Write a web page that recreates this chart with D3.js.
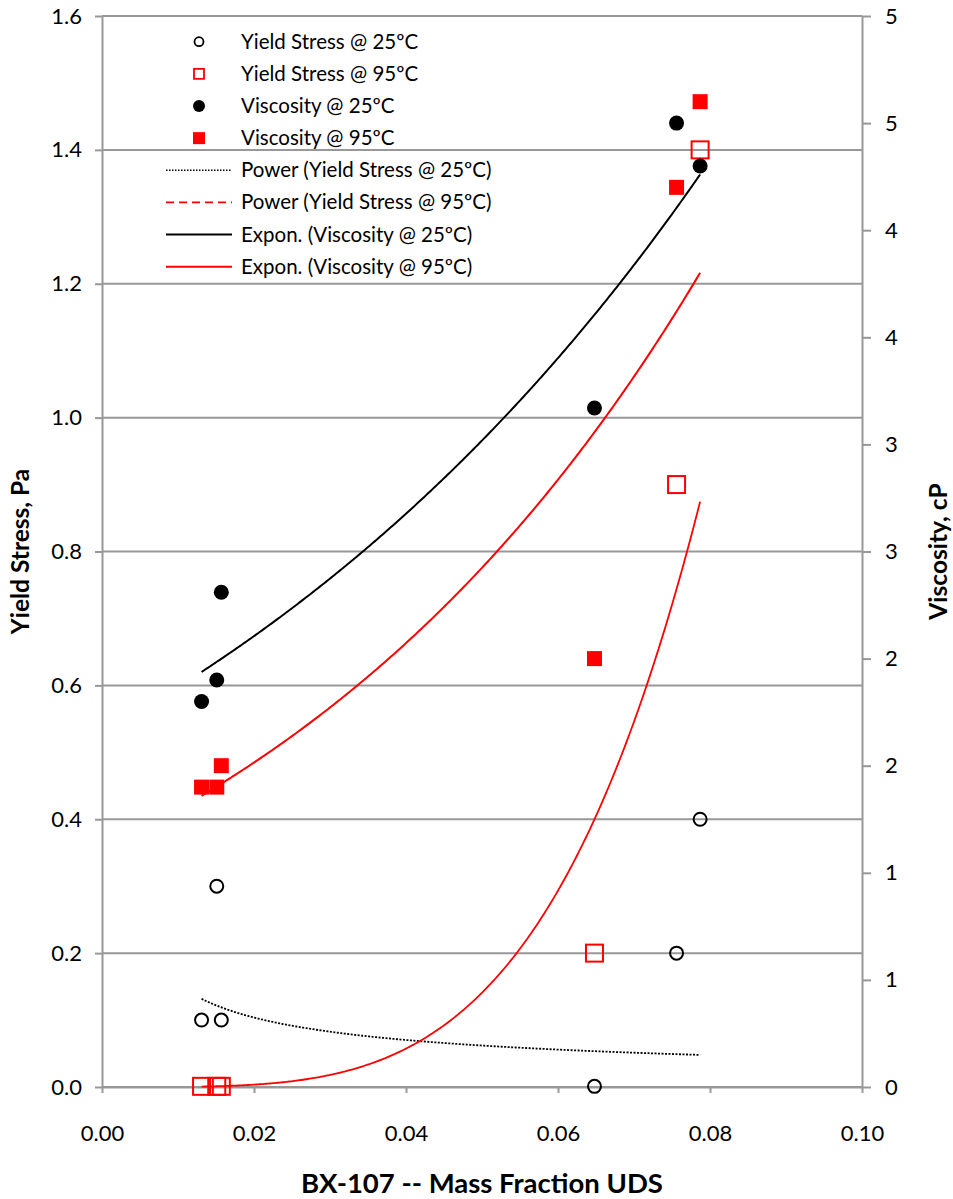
<!DOCTYPE html>
<html><head><meta charset="utf-8">
<script src="https://cdn.jsdelivr.net/npm/d3@7/dist/d3.min.js"></script>
<style>
body{margin:0;background:#fff}
svg{display:block}
text{font-family:Lato,"Open Sans",sans-serif;fill:#000}
</style>
</head><body>
<svg id="chart" width="953" height="1199"></svg>
<script>
// ---- data ----
const massFraction   = [0.0131, 0.0151, 0.0157, 0.0648, 0.0756, 0.0787];
const yieldStress25  = [0.1, 0.3, 0.1, 0.001, 0.2, 0.4];
const yieldStress95  = [0.001, 0.001, 0.001, 0.2, 0.9, 1.4];
const viscosity25    = [1.80, 1.90, 2.31, 3.17, 4.50, 4.30];
const viscosity95    = [1.40, 1.40, 1.50, 2.00, 4.20, 4.60];

const xTickValues      = [0, 0.02, 0.04, 0.06, 0.08, 0.10];
const xTickLabels      = ["0.00", "0.02", "0.04", "0.06", "0.08", "0.10"];
const yLeftTickValues  = [0, 0.2, 0.4, 0.6, 0.8, 1.0, 1.2, 1.4, 1.6];
const yLeftTickLabels  = ["0.0", "0.2", "0.4", "0.6", "0.8", "1.0", "1.2", "1.4", "1.6"];
const yRightTickValues = [0, 0.5, 1, 1.5, 2, 2.5, 3, 3.5, 4, 4.5, 5];
const yRightTickLabels = ["0", "1", "1", "2", "2", "3", "3", "4", "4", "5", "5"];

const legendLabels = [
  "Yield Stress @ 25ºC",
  "Yield Stress @ 95ºC",
  "Viscosity @ 25ºC",
  "Viscosity @ 95ºC",
  "Power (Yield Stress @  25ºC)",
  "Power (Yield Stress @ 95ºC)",
  "Expon. (Viscosity @ 25ºC)",
  "Expon. (Viscosity @ 95ºC)"
];
const xTitle = "BX-107 -- Mass Fraction UDS";
const yLeftTitle = "Yield Stress, Pa";
const yRightTitle = "Viscosity, cP";

// ---- layout ----
const L = 102, R = 862, T = 16, B = 1087;
const svg = d3.select("#chart");
const grid = "#989898";

const x = d3.scaleLinear().domain([0, 0.10]).range([L, R]);
const yL = d3.scaleLinear().domain([0, 1.6]).range([B, T]);
const yR = d3.scaleLinear().domain([0, 5]).range([B, T]);

// least-squares trendlines (Excel style)
function linFit(xs, ys){
  const n = xs.length, mx = d3.mean(xs), my = d3.mean(ys);
  let sxy = 0, sxx = 0;
  for (let i = 0; i < n; i++){ sxy += (xs[i]-mx)*(ys[i]-my); sxx += (xs[i]-mx)**2; }
  const b = sxy/sxx; return {b, c: my - b*mx};
}
function powerFit(xs, ys){
  const f = linFit(xs.map(Math.log), ys.map(Math.log));
  return t => Math.exp(f.c) * Math.pow(t, f.b);
}
function expFit(xs, ys){
  const f = linFit(xs, ys.map(Math.log));
  return t => Math.exp(f.c) * Math.exp(f.b * t);
}
const xmin = d3.min(massFraction), xmax = d3.max(massFraction);
const samples = d3.range(301).map(i => xmin + (xmax - xmin) * i / 300);

// gridlines
svg.append("g").selectAll("line").data(yLeftTickValues).join("line")
  .attr("x1", L).attr("x2", R).attr("y1", d => yL(d)).attr("y2", d => yL(d))
  .attr("stroke", grid).attr("stroke-width", 2);

// axes
function styleAxis(g){
  g.selectAll(".domain").attr("stroke", grid).attr("stroke-width", 2);
  g.selectAll(".tick line").attr("stroke", grid).attr("stroke-width", 2);
  g.selectAll(".tick text").style("font-family", "Lato, 'Open Sans', sans-serif").style("font-size", "22px").attr("fill", "#000");
}
svg.append("g").attr("transform", `translate(${L},0)`)
  .call(d3.axisLeft(yL).tickValues(yLeftTickValues).tickSize(7).tickSizeOuter(0).tickPadding(13)
    .tickFormat((d, i) => yLeftTickLabels[i]))
  .call(styleAxis);
svg.append("g").attr("transform", `translate(${R},0)`)
  .call(d3.axisRight(yR).tickValues(yRightTickValues).tickSize(9).tickSizeOuter(0).tickPadding(14)
    .tickFormat((d, i) => yRightTickLabels[i]))
  .call(styleAxis);
svg.append("g").attr("transform", `translate(0,${B})`)
  .call(d3.axisBottom(x).tickValues(xTickValues).tickSize(6).tickSizeOuter(0).tickPadding(32)
    .tickFormat((d, i) => xTickLabels[i]))
  .call(styleAxis);

// trendlines
const trends = [
  {f: powerFit(massFraction, yieldStress25), y: yL, color: "#000", dash: "2,1.5", w: 1.8},
  {f: powerFit(massFraction, yieldStress95), y: yL, color: "#ff0000", dash: null, w: 1.8},
  {f: expFit(massFraction, viscosity25), y: yR, color: "#000", dash: null, w: 2},
  {f: expFit(massFraction, viscosity95), y: yR, color: "#ff0000", dash: null, w: 2}
];
trends.forEach(t => {
  const line = d3.line().x(d => x(d)).y(d => t.y(t.f(d)));
  svg.append("path").attr("d", line(samples)).attr("fill", "none")
    .attr("stroke", t.color).attr("stroke-width", t.w)
    .attr("stroke-dasharray", t.dash);
});

// markers
const pts = (ys) => massFraction.map((m, i) => ({m, v: ys[i]}));
svg.append("g").selectAll("circle").data(pts(yieldStress25)).join("circle")
  .attr("cx", d => x(d.m)).attr("cy", d => yL(d.v)).attr("r", 6.5)
  .attr("fill", "none").attr("stroke", "#000").attr("stroke-width", 2);
svg.append("g").selectAll("rect").data(pts(yieldStress95)).join("rect")
  .attr("x", d => x(d.m) - 8.5).attr("y", d => yL(d.v) - 8.5).attr("width", 17).attr("height", 17)
  .attr("fill", "none").attr("stroke", "#ff0000").attr("stroke-width", 2);
svg.append("g").selectAll("circle").data(pts(viscosity25)).join("circle")
  .attr("cx", d => x(d.m)).attr("cy", d => yR(d.v)).attr("r", 7.5).attr("fill", "#000");
svg.append("g").selectAll("rect").data(pts(viscosity95)).join("rect")
  .attr("x", d => x(d.m) - 7.5).attr("y", d => yR(d.v) - 7.5).attr("width", 15).attr("height", 15)
  .attr("fill", "#ff0000");

// legend
const lg = svg.append("g");
const rowY = i => 41.7 + i * 32.15;
const mx = 199;
lg.append("circle").attr("cx", mx).attr("cy", rowY(0)).attr("r", 4.5).attr("fill", "none").attr("stroke", "#000").attr("stroke-width", 1.8);
lg.append("rect").attr("x", mx - 5).attr("y", rowY(1) - 5).attr("width", 10).attr("height", 10).attr("fill", "none").attr("stroke", "#ff0000").attr("stroke-width", 1.8);
lg.append("circle").attr("cx", mx).attr("cy", rowY(2)).attr("r", 6).attr("fill", "#000");
lg.append("rect").attr("x", mx - 6).attr("y", rowY(3) - 6).attr("width", 12).attr("height", 12).attr("fill", "#ff0000");
const lstyles = [
  {c: "#000", d: "1.5,1.5", w: 1.5},
  {c: "#ff0000", d: "8,5", w: 1.8},
  {c: "#000", d: null, w: 2},
  {c: "#ff0000", d: null, w: 2}
];
lstyles.forEach((s, k) => {
  lg.append("line").attr("x1", 166).attr("x2", 232).attr("y1", rowY(4 + k)).attr("y2", rowY(4 + k))
    .attr("stroke", s.c).attr("stroke-width", s.w).attr("stroke-dasharray", s.d);
});
lg.selectAll("text").data(legendLabels).join("text")
  .attr("x", 241).attr("y", (d, i) => rowY(i) + 7)
  .style("font-size", "20.5px").text(d => d);

// titles
svg.append("text").attr("x", (L + R) / 2).attr("y", 1193).attr("text-anchor", "middle")
  .style("font-size", "27.5px").style("font-weight", "bold").text(xTitle);
svg.append("text").attr("transform", `translate(29,${(T + B) / 2}) rotate(-90)`).attr("text-anchor", "middle")
  .style("font-size", "24.5px").style("font-weight", "bold").text(yLeftTitle);
svg.append("text").attr("transform", `translate(947,${(T + B) / 2}) rotate(-90)`).attr("text-anchor", "middle")
  .style("font-size", "24.5px").style("font-weight", "bold").text(yRightTitle);
</script>
</body></html>
